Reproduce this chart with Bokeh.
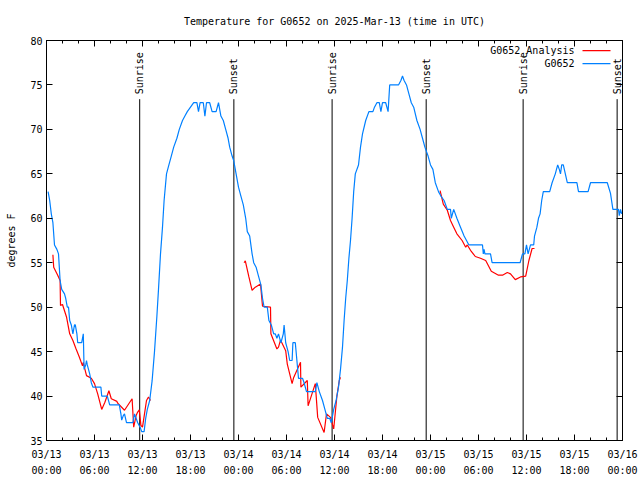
import math
from bokeh.plotting import figure
from bokeh.models import Range1d, FixedTicker, LinearAxis
from bokeh.core.properties import value
from bokeh.embed import file_html
from bokeh.resources import INLINE

TITLE = "Temperature for G0652 on 2025-Mar-13 (time in UTC)"
FONT = "DejaVu Sans Mono"

# hours since 2025-03-13 00:00 UTC
obs_h = [0.2, 0.4, 0.6, 0.8, 1.0, 1.3, 1.5, 1.7, 1.9, 2.25, 2.4, 2.6, 2.75, 2.9, 3.1, 3.3, 3.5, 3.6, 3.8, 3.9, 4.4, 4.6, 4.7, 4.9, 5.0, 5.1, 5.25, 5.4, 5.6, 5.8, 6.8, 6.9, 7.6, 7.9, 9.1, 9.3, 9.4, 9.6, 9.75, 10.0, 10.8, 11.0, 11.2, 11.4, 11.7, 11.9, 12.2, 12.4, 12.6, 12.9,
         13.2, 13.5, 13.8, 14.0, 14.25, 14.5, 14.7, 15.0, 15.3, 15.6, 15.9, 16.3, 16.6, 17.0, 17.3, 17.6, 18.0, 18.4, 18.8, 19.0, 19.2, 19.6, 19.8, 20.0, 20.4, 20.7, 21.2, 21.5, 21.8, 22.1, 22.4, 22.7, 22.9, 23.2, 23.4, 23.7, 24.0, 24.3, 24.6, 24.9, 25.1, 25.4, 25.7, 25.9, 26.2, 26.5, 26.8, 27.0, 27.2, 27.6, 27.8, 28.1, 28.4, 28.6, 28.8, 29.0, 29.3, 29.6, 29.7, 29.9, 30.2, 30.4, 30.7, 30.8, 31.1, 31.3, 31.5, 32.0, 32.2, 32.5, 33.0, 33.6, 33.8, 34.1, 34.5, 34.8, 35.1, 35.4, 35.6, 35.9, 36.2, 36.5, 36.75,
         37.0, 37.2, 37.4, 37.6, 37.8, 38.0, 38.2, 38.4, 38.6, 39.0, 39.25, 39.5, 39.9, 40.3, 40.8, 41.0, 41.3, 41.6, 41.8, 42.0, 42.4, 42.7, 42.9, 44.0, 44.3, 44.5, 44.7, 45.0, 45.3, 45.6, 45.9, 46.3, 46.7, 47.0, 47.3, 47.5, 47.7, 48.0, 48.3, 48.6, 49.0, 49.3, 49.7, 50.1, 50.5, 50.6, 50.9, 51.3, 51.75, 52.2, 52.8, 54.5, 54.6, 54.7, 54.8, 55.5, 55.7, 59.2, 59.5, 59.8, 60.0, 60.2, 60.5, 60.9, 61.0, 61.3, 61.5, 61.7, 61.9, 62.1, 62.9, 63.2, 63.6, 63.9, 64.1, 64.25, 64.4, 64.6, 65.1, 66.3, 66.5, 67.7, 68.0, 70.1, 70.5, 70.8, 71.5, 71.6, 71.75, 71.9]
obs_t = [63, 62, 60.5, 59.5, 57, 56.5, 56, 53, 52, 51.5, 51, 50, 50, 48.5, 48, 47, 48, 48, 47, 46, 46, 47, 43, 43.5, 44, 43.5, 43, 42.5, 41.5, 41, 41, 40, 40, 39, 39, 38, 37.3, 37.8, 38, 37, 37, 38, 37.5, 37, 36.5, 36, 36, 37.5, 38.5, 39.5,
         41.7, 45, 49, 52, 56, 59, 62, 65, 66, 67, 68, 69, 70, 71, 71.5, 72, 72.5, 73, 73, 72, 73, 73, 71.5, 73, 73, 72, 72, 73, 71.5, 71, 70, 69, 68, 67, 66.5, 65, 63.5, 62.5, 61.5, 60, 58.5, 58, 56, 55, 54.5, 53.5, 52.5, 51, 50, 50, 48.5, 48, 47, 47, 46.5, 47, 46, 47, 48, 46, 45, 44, 44, 46, 46, 44, 42, 42, 41.5, 40.5, 40.5, 40.5, 41.5, 40.5, 39.5, 38.5, 37.5, 37.5, 37, 38.5, 39.5, 41, 43,
         45.5, 48.5, 51, 53, 55.5, 57.5, 60, 63, 65, 66, 68, 69.5, 71, 72, 72, 72.5, 73, 73, 72, 73, 73, 72, 75, 75, 75.5, 76, 75.5, 75, 74, 73, 72.5, 71, 70, 69, 68, 67.5, 67, 66, 65.5, 64, 63, 62.5, 62, 61, 61, 60, 61, 60, 59, 58, 57, 57, 56, 56.5, 56, 56, 55, 55, 56, 56, 57, 56, 57, 57, 58, 59, 60, 60.5, 62, 63, 63, 64, 65, 66, 65.5, 65, 66, 66, 64, 64, 63, 63, 64, 64, 62.8, 61, 61, 60.3, 61, 60.5]

nan = float("nan")
ana_h = [0.8, 0.9, 1.4, 1.7, 1.75, 2.0, 2.5, 2.9, 3.3, 3.7, 4.1, 4.5, 4.6, 4.75, 5.0, 5.6, 6.0, 6.4, 6.9, 7.3, 7.8, 8.1, 8.8, 8.9, 9.75, 10.7, 10.9, 11.2, 11.4, 11.6, 11.8, 12.0, 12.25, 12.5, 12.75, 13.0,
         nan,
         24.7, 24.85, 25.3, 25.7, 26.1, 26.75, 27.0, 28.0, 28.05, 28.8, 29.0, 29.25, 29.9, 30.1, 30.7, 30.9, 31.75, 31.8, 32.6, 32.7, 33.6, 33.9, 34.7, 35.0, 35.5, 35.9, 36.3, 36.6, 36.75,
         nan,
         49.2, 49.6, 50.1, 50.5, 50.9, 51.3, 51.95, 52.4, 52.6, 53.0, 53.6, 54.25, 54.9, 55.6, 56.5, 57.0, 57.6, 58.0, 58.6, 59.25, 59.9, 60.3, 60.7, 61.0]
ana_t = [55.9, 54.5, 53.6, 53, 50.2, 50.3, 48.9, 47, 46.25, 45.3, 44.4, 43.4, 43.8, 43.2, 42.3, 42.0, 41.4, 40.25, 38.5, 39.3, 40.6, 39.7, 39.4, 39.2, 38.4, 39.7, 36.5, 37.8, 38.2, 38.45, 36.7, 36.5, 38, 39.5, 39.9, 39.5,
         nan,
         55.0, 55.2, 53.4, 51.9, 52.25, 52.6, 50.1, 50.0, 47, 45.3, 45.5, 46.3, 45.1, 43.6, 41.4, 42.1, 43.8, 41.0, 41.75, 38.9, 41.4, 37.6, 35.9, 38.0, 37.6, 36.3, 40.0, 41.75, 42.1,
         nan,
         63.1, 61.6, 60.9, 59.75, 59, 58.25, 57.5, 56.75, 57, 56.4, 55.7, 55.5, 55.25, 54.05, 53.6, 53.6, 53.9, 53.75, 53.1, 53.4, 53.5, 55.25, 56.6, 56.6]

sun_h = [11.65, 23.42, 35.7, 47.46, 59.58, 71.33]
sun_lbl = ["Sunrise", "Sunset", "Sunrise", "Sunset", "Sunrise", "Sunset"]

tick_h = [0, 6, 12, 18, 24, 30, 36, 42, 48, 54, 60, 66, 72]
tick_day = ["03/13", "03/13", "03/13", "03/13", "03/14", "03/14", "03/14", "03/14", "03/15", "03/15", "03/15", "03/15", "03/16"]
tick_time = ["00:00", "06:00", "12:00", "18:00"] * 3 + ["00:00"]
y_ticks = [35, 40, 45, 50, 55, 60, 65, 70, 75, 80]

series_names = ["G0652_Analysis", "G0652"]
series_colors = ["#ff0000", "#0080ff"]

p = figure(width=640, height=480, output_backend="svg", toolbar_location=None,
           x_range=Range1d(0, 72), y_range=Range1d(35, 80),
           min_border_left=46, min_border_right=18, min_border_top=40, min_border_bottom=40)
p.background_fill_color = "white"
p.border_fill_color = "white"
p.outline_line_color = "black"
p.outline_line_width = 1
p.grid.visible = False

p.title.text = TITLE
p.title.align = "center"
p.title.vertical_align = "top"
p.title.text_font = FONT
p.title.text_font_size = "10px"
p.title.text_font_style = "normal"
p.title.text_color = "black"
p.title.offset = 0
p.title.standoff = 24

xt = FixedTicker(ticks=tick_h, minor_ticks=list(range(0, 73, 2)))
yt = FixedTicker(ticks=y_ticks, minor_ticks=[])

def style(ax, labels=True):
    ax.major_tick_in = 6
    ax.major_tick_out = 0
    ax.minor_tick_in = 3
    ax.minor_tick_out = 0
    ax.axis_line_color = "black"
    ax.major_tick_line_color = "black"
    ax.minor_tick_line_color = "black"
    ax.major_label_text_font = FONT
    ax.major_label_text_font_size = "10px"
    ax.major_label_text_color = "black"
    if not labels:
        ax.major_label_text_alpha = 0
        ax.major_label_text_font_size = "1px"

xa = p.xaxis[0]
xa.ticker = xt
xa.major_label_overrides = {h: d + "\n" + t for h, d, t in zip(tick_h, tick_day, tick_time)}
style(xa)
xa.major_label_standoff = 8
xa.major_label_text_line_height = 1.5

ya = p.yaxis[0]
ya.ticker = yt
style(ya)
ya.major_label_standoff = 4
ya.axis_label = "degrees F"
ya.axis_label_text_font = FONT
ya.axis_label_text_font_size = "10px"
ya.axis_label_text_font_style = "normal"
ya.axis_label_text_color = "black"
ya.axis_label_standoff = 10

top = LinearAxis(ticker=FixedTicker(ticks=tick_h, minor_ticks=list(range(0, 73, 2))))
style(top, labels=False)
top.major_label_standoff = 0
p.add_layout(top, "above")

right = LinearAxis(ticker=FixedTicker(ticks=y_ticks, minor_ticks=[]))
style(right, labels=False)
right.major_label_standoff = 0
p.add_layout(right, "right")

# sunrise / sunset markers
p.segment(x0=sun_h, y0=[35] * len(sun_h), x1=sun_h, y1=[73.4] * len(sun_h), line_color="black", line_width=1)
p.text(x=sun_h, y=[73.95] * len(sun_h), text=sun_lbl, angle=math.pi / 2,
       text_align="left", text_baseline="middle", text_font=value(FONT), text_font_size="10px", text_color="black")

p.line(ana_h, ana_t, line_color=series_colors[0], line_width=1.2)
p.line(obs_h, obs_t, line_color=series_colors[1], line_width=1.2)

# legend (text left of sample line, gnuplot style)
leg_y = [78.85, 77.4]
p.text(x=[66.0, 66.0], y=leg_y, text=series_names, text_align="right", text_baseline="middle",
       text_font=value(FONT), text_font_size="10px", text_color="black")
p.segment(x0=[67.0, 67.0], y0=leg_y, x1=[70.5, 70.5], y1=leg_y, line_color=series_colors, line_width=1.2)

open("out.html", "w").write(file_html(p, INLINE))
